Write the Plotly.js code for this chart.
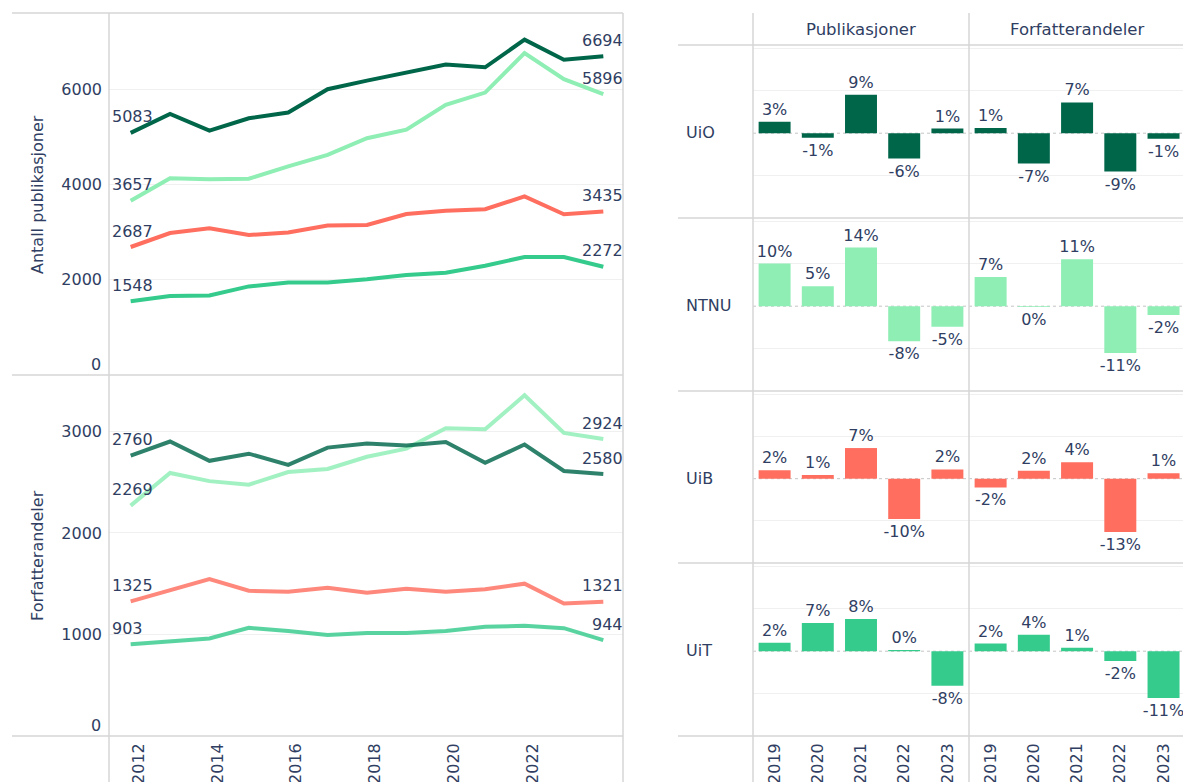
<!DOCTYPE html>
<html>
<head>
<meta charset="utf-8">
<script src="https://cdn.plot.ly/plotly-3.0.1.min.js"></script>
<style>html,body{margin:0;padding:0;background:#fff;}#chart{width:1183px;height:782px;}</style>
</head>
<body>
<div id="chart"></div>
<script>
// ---------- DATA ----------
const years = [2012, 2013, 2014, 2015, 2016, 2017, 2018, 2019, 2020, 2021, 2022, 2023, 2024];
const institutions = ['UiO', 'NTNU', 'UiB', 'UiT'];

// Antall publikasjoner
const pubUiO  = [5083, 5480, 5130, 5390, 5510, 6000, 6180, 6350, 6520, 6460, 7040, 6620, 6694];
const pubNTNU = [3657, 4130, 4110, 4120, 4380, 4620, 4970, 5150, 5670, 5930, 6760, 6210, 5896];
const pubUiB  = [2687, 2980, 3080, 2940, 2990, 3140, 3150, 3380, 3450, 3480, 3750, 3375, 3435];
const pubUiT  = [1548, 1660, 1670, 1860, 1940, 1940, 2010, 2100, 2145, 2295, 2478, 2475, 2272];

// Forfatterandeler
const forfUiO  = [2760, 2900, 2710, 2780, 2670, 2840, 2880, 2860, 2895, 2690, 2870, 2610, 2580];
const forfNTNU = [2269, 2590, 2510, 2475, 2600, 2630, 2750, 2830, 3030, 3020, 3355, 2985, 2924];
const forfUiB  = [1325, 1440, 1545, 1430, 1420, 1460, 1410, 1450, 1420, 1445, 1500, 1305, 1321];
const forfUiT  = [903, 935, 960, 1065, 1035, 995, 1015, 1015, 1035, 1075, 1085, 1062, 944];

// Prosentvis endring (bars)
const barYears = ['2019', '2020', '2021', '2022', '2023'];
const pctPubUiO   = [2.7, -1.1, 9.1, -6.0, 1.1];
const pctForfUiO  = [1.2, -7.2, 7.3, -9.1, -1.3];
const pctPubNTNU  = [10.1, 4.7, 13.9, -8.3, -4.9];
const pctForfNTNU = [6.9, -0.2, 11.1, -11.1, -2.1];
const pctPubUiB   = [2.0, 0.9, 7.3, -9.6, 2.2];
const pctForfUiB  = [-2.1, 1.9, 3.9, -12.7, 1.3];
const pctPubUiT   = [2.0, 6.7, 7.6, 0.3, -8.2];
const pctForfUiT  = [1.8, 3.9, 0.8, -2.3, -11.1];

const lineTickVals = [2012, 2014, 2016, 2018, 2020, 2022];
const pubTickVals = [0, 2000, 4000, 6000];
const forfTickVals = [0, 1000, 2000, 3000];
const columnTitles = ['Publikasjoner', 'Forfatterandeler'];
const leftTitles = ['Antall publikasjoner', 'Forfatterandeler'];

// ---------- STYLE ----------
const W = 1183, H = 782;
const FONT = 'DejaVu Sans';
const TXT = '#2f3e62';
const GRID = '#f0f0f0';
const BORDER = '#d6d6d6';
const colors = {UiO: '#00664a', NTNU: '#8eeeb4', UiB: '#ff6e5f', UiT: '#35cb8c'};
const px = v => v / W;
const py = v => 1 - v / H;

const pubSeries = {UiO: pubUiO, NTNU: pubNTNU, UiB: pubUiB, UiT: pubUiT};
const forfSeries = {UiO: forfUiO, NTNU: forfNTNU, UiB: forfUiB, UiT: forfUiT};
const pctPub = {UiO: pctPubUiO, NTNU: pctPubNTNU, UiB: pctPubUiB, UiT: pctPubUiT};
const pctForf = {UiO: pctForfUiO, NTNU: pctForfNTNU, UiB: pctForfUiB, UiT: pctForfUiT};

const traces = [];
const annotations = [];

function addLines(series, yax, opacity) {
  institutions.forEach(inst => {
    const ys = series[inst];
    traces.push({
      type: 'scatter', mode: 'lines', x: years, y: ys,
      xaxis: 'x', yaxis: yax, opacity: opacity,
      line: {color: colors[inst], width: 4}, hoverinfo: 'skip'
    });
    const n = ys.length - 1;
    annotations.push({
      xref: 'x', yref: yax, x: years[0], y: ys[0], text: String(ys[0]),
      showarrow: false, xanchor: 'left', yanchor: 'middle', xshift: -21, yshift: 16,
      font: {family: FONT, size: 16, color: TXT}
    });
    annotations.push({
      xref: 'x', yref: yax, x: years[n], y: ys[n], text: String(ys[n]),
      showarrow: false, xanchor: 'right', yanchor: 'middle', xshift: 22, yshift: 16,
      font: {family: FONT, size: 16, color: TXT}
    });
  });
}
addLines(pubSeries, 'y', 1);
addLines(forfSeries, 'y2', 0.82);

// "0" tick labels sit just above the pane's bottom border
[['y', pubTickVals], ['y2', forfTickVals]].forEach(([ax, vals]) => {
  annotations.push({xref: 'paper', yref: ax, x: px(103), y: vals[0], text: String(vals[0]),
    showarrow: false, xanchor: 'right', yanchor: 'middle', yshift: 11,
    font: {family: FONT, size: 16, color: TXT}});
});

// Bars
const rows = [
  {inst: 'UiO',  top: 45,  bot: 218, yp: 'y3', yf: 'y4'},
  {inst: 'NTNU', top: 218, bot: 391, yp: 'y5', yf: 'y6'},
  {inst: 'UiB',  top: 391, bot: 563, yp: 'y7', yf: 'y8'},
  {inst: 'UiT',  top: 563, bot: 736, yp: 'y9', yf: 'y10'}
];
const shapes = [];
rows.forEach(r => {
  [[pctPub, 'x3', r.yp], [pctForf, 'x4', r.yf]].forEach(([src, xa, ya]) => {
    const vals = src[r.inst];
    traces.push({
      type: 'bar', x: barYears, y: vals.map(v => v / 100),
      xaxis: xa, yaxis: ya,
      marker: {color: colors[r.inst]},
      text: vals.map(v => Math.round(v) + '%'),
      textposition: 'outside', cliponaxis: false, constraintext: 'none',
      textfont: {family: FONT, size: 16, color: TXT},
      hoverinfo: 'skip'
    });
    shapes.push({type: 'line', xref: xa + ' domain', yref: ya, x0: 0, x1: 1, y0: 0, y1: 0,
      line: {color: '#c4c4c4', width: 1, dash: 'dot'}, layer: 'below'});
  });
  annotations.push({xref: 'paper', yref: 'paper', x: px(684), y: py((r.top + r.bot) / 2 + 1),
    text: r.inst, showarrow: false, xanchor: 'left', yanchor: 'middle',
    font: {family: FONT, size: 16, color: TXT}});
});

// Column headers
annotations.push({xref: 'paper', yref: 'paper', x: px(861), y: py(30), text: columnTitles[0],
  showarrow: false, xanchor: 'center', yanchor: 'middle', font: {family: FONT, size: 16.5, color: TXT}});
annotations.push({xref: 'paper', yref: 'paper', x: px(1077), y: py(30), text: columnTitles[1],
  showarrow: false, xanchor: 'center', yanchor: 'middle', font: {family: FONT, size: 16.5, color: TXT}});
// Left axis titles
annotations.push({xref: 'paper', yref: 'paper', x: px(37), y: py(195), text: leftTitles[0], textangle: -90,
  showarrow: false, xanchor: 'center', yanchor: 'middle', font: {family: FONT, size: 16, color: TXT}});
annotations.push({xref: 'paper', yref: 'paper', x: px(37), y: py(556), text: leftTitles[1], textangle: -90,
  showarrow: false, xanchor: 'center', yanchor: 'middle', font: {family: FONT, size: 16, color: TXT}});

// Border lines
function hline(y, x0, x1) { shapes.push({type: 'line', xref: 'paper', yref: 'paper', x0: px(x0), x1: px(x1), y0: py(y), y1: py(y), line: {color: BORDER, width: 1.5}}); }
function vline(x, y0, y1) { shapes.push({type: 'line', xref: 'paper', yref: 'paper', x0: px(x), x1: px(x), y0: py(y0), y1: py(y1), line: {color: BORDER, width: 1.5}}); }
[13, 375, 736].forEach(y => hline(y, 12, 623));
vline(109, 13, 782); vline(623, 13, 782);
[45, 218, 391, 563, 736].forEach(y => hline(y, 678, 1183));
vline(753, 13, 782); vline(969, 13, 782);

const tickFont = {family: FONT, size: 16, color: TXT};
const barY = (top, bot, anchor) => ({
  domain: [py(bot), py(top)], anchor: anchor, range: [-0.201, 0.209],
  tickvals: [-0.1, 0.1, 0.2], showticklabels: false, ticks: '',
  showgrid: true, gridcolor: GRID, gridwidth: 1, zeroline: false, showline: false, fixedrange: true
});
const tickTextNoZero = vals => vals.map(v => v === 0 ? '' : String(v));

const layout = {
  width: W, height: H, autosize: false,
  margin: {l: 0, r: 0, t: 0, b: 0, pad: 0},
  paper_bgcolor: '#ffffff', plot_bgcolor: 'rgba(0,0,0,0)',
  showlegend: false, bargap: 0.26,
  font: {family: FONT, size: 16, color: TXT},
  xaxis: {domain: [px(109), px(623)], anchor: 'y2', range: [2011.45, 2024.5],
    tickvals: lineTickVals, ticktext: lineTickVals.map(String), tickangle: -90,
    ticklabelshift: 8, ticklabelstandoff: 3, ticks: '', showgrid: false, zeroline: false,
    showline: false, tickfont: tickFont},
  yaxis: {domain: [py(375), py(13)], anchor: 'x', range: [0, 7600], tickvals: pubTickVals,
    ticktext: tickTextNoZero(pubTickVals),
    ticks: '', ticklabelstandoff: 6, showgrid: true, gridcolor: GRID, zeroline: false, showline: false, tickfont: tickFont},
  yaxis2: {domain: [py(736), py(375)], anchor: 'x', range: [0, 3555], tickvals: forfTickVals,
    ticktext: tickTextNoZero(forfTickVals),
    ticks: '', ticklabelstandoff: 6, showgrid: true, gridcolor: GRID, zeroline: false, showline: false, tickfont: tickFont},
  xaxis3: {domain: [px(753), px(969)], anchor: 'y9', type: 'category', range: [-0.5, 4.5],
    tickangle: -90, ticks: '', ticklabelstandoff: 3, showgrid: false, zeroline: false, showline: false, tickfont: tickFont},
  xaxis4: {domain: [px(969), 1], anchor: 'y10', type: 'category', range: [-0.5, 4.45],
    tickangle: -90, ticks: '', ticklabelstandoff: 3, showgrid: false, zeroline: false, showline: false, tickfont: tickFont},
  yaxis3: barY(45, 218, 'x3'), yaxis4: barY(45, 218, 'x4'),
  yaxis5: barY(218, 391, 'x3'), yaxis6: barY(218, 391, 'x4'),
  yaxis7: barY(391, 563, 'x3'), yaxis8: barY(391, 563, 'x4'),
  yaxis9: barY(563, 736, 'x3'), yaxis10: barY(563, 736, 'x4'),
  shapes: shapes, annotations: annotations
};

// draw UiO last within each line chart
const lineTr = traces.filter(t => t.type === 'scatter');
const barTr = traces.filter(t => t.type === 'bar');
const ordered = [];
['y', 'y2'].forEach(ax => {
  ['UiT', 'UiB', 'NTNU', 'UiO'].forEach(inst => {
    ordered.push(lineTr.find(tr => tr.yaxis === ax && tr.line.color === colors[inst]));
  });
});
Plotly.newPlot('chart', ordered.concat(barTr), layout, {displayModeBar: false, staticPlot: true});
</script>
</body>
</html>
